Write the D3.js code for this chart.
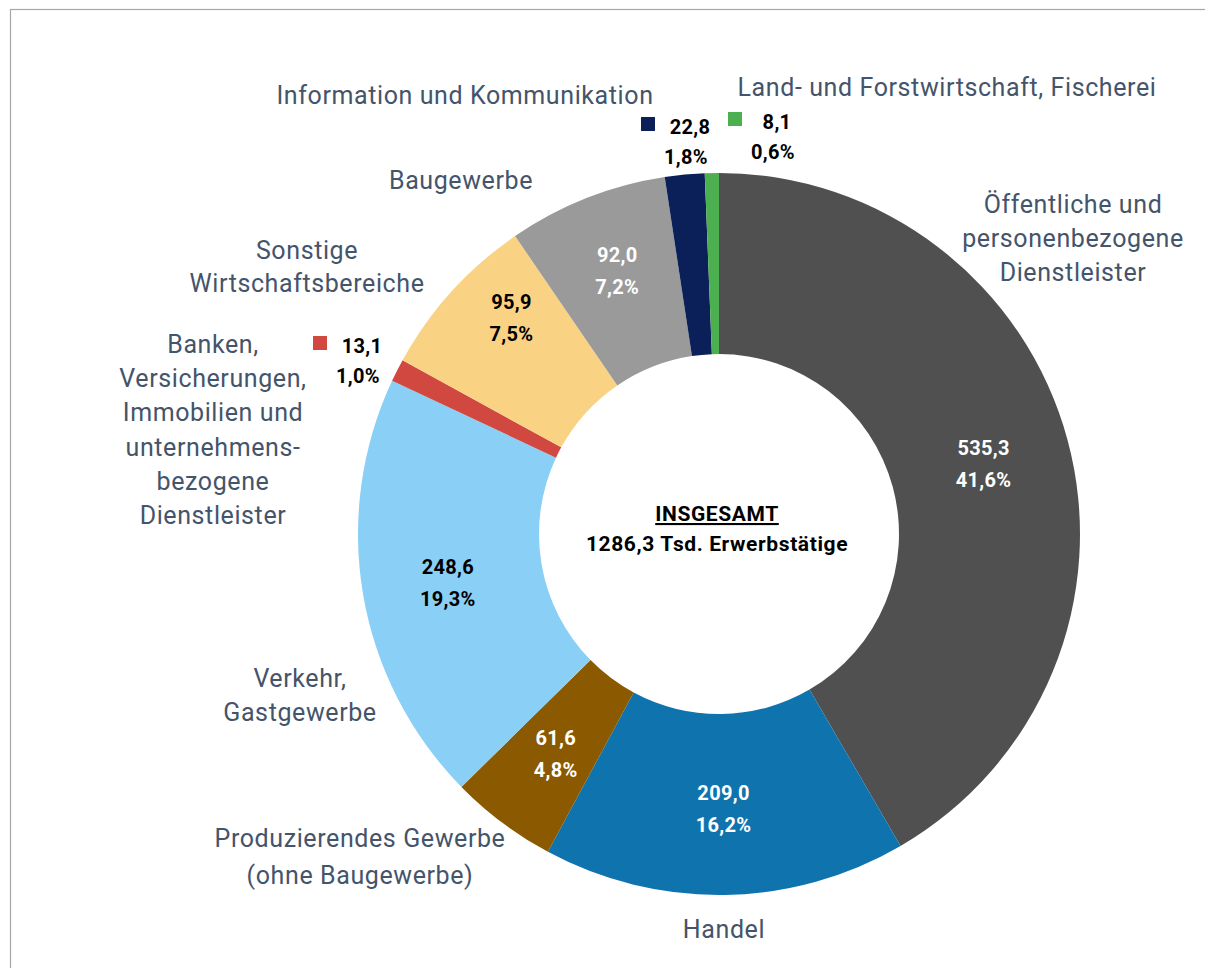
<!DOCTYPE html>
<html>
<head>
<meta charset="utf-8">
<script src="https://cdn.jsdelivr.net/npm/d3@7"></script>
<style>
  body { margin: 0; background: #fff; }
  svg { display: block; }
</style>
</head>
<body>
<div id="chart"></div>
<script>
// data
const sectors = ["Öffentliche und personenbezogene Dienstleister", "Handel",
  "Produzierendes Gewerbe (ohne Baugewerbe)", "Verkehr, Gastgewerbe",
  "Banken, Versicherungen, Immobilien und unternehmensbezogene Dienstleister",
  "Sonstige Wirtschaftsbereiche", "Baugewerbe", "Information und Kommunikation",
  "Land- und Forstwirtschaft, Fischerei"];
const values = [535.3, 209.0, 61.6, 248.6, 13.1, 95.9, 92.0, 22.8, 8.1];
const shares = ["41,6%", "16,2%", "4,8%", "19,3%", "1,0%", "7,5%", "7,2%", "1,8%", "0,6%"];
const totalLabel = "1286,3 Tsd. Erwerbstätige";

const colors = ["#505050", "#0f73ae", "#8b5a00", "#8acff5", "#d0483f", "#fad283", "#9a9a9a", "#0b2059", "#4caf50"];
const valueTextColor = ["#fff", "#fff", "#fff", "#000", "#000", "#000", "#fff", "#000", "#000"];

// category label lines and where they sit (offset from the donut centre)
const nameLines = [
  ["Öffentliche und", "personenbezogene", "Dienstleister"],
  ["Handel"],
  ["Produzierendes Gewerbe", "(ohne Baugewerbe)"],
  ["Verkehr,", "Gastgewerbe"],
  ["Banken,", "Versicherungen,", "Immobilien und", "unternehmens-", "bezogene", "Dienstleister"],
  ["Sonstige", "Wirtschaftsbereiche"],
  ["Baugewerbe"],
  ["Information und Kommunikation"],
  ["Land- und Forstwirtschaft, Fischerei"]
];
const namePos = [[354, -321], [5, 404], [-359, 313], [-419, 153], [-506, -181], [-412, -275], [-258, -345], [-254, -430], [228, -438]];
const nameLineH = [34, 34, 37, 34, 34.2, 33, 34, 34, 34];
// nudges for value labels inside slices
const valueNudge = [[2, 0], [0, 2], [0, 2], [-3, 2], [0, 0], [-6, -34], [-2, -11], [0, 0], [0, 0]];
// small slices get an outside value label with a colour key
const outsideKey = {4: [-399, -191], 7: [-71, -410], 8: [16, -415]};

const width = 1205, height = 968;
const cx = 719, cy = 534, outerR = 361, innerR = 180;
const textBlue = "#44546a";
const font = "Roboto, 'Noto Sans', sans-serif";

const svg = d3.select("#chart").append("svg")
  .attr("width", width).attr("height", height);

svg.append("rect")
  .attr("x", 10.5).attr("y", 9.5)
  .attr("width", width + 10).attr("height", height + 10)
  .attr("fill", "none").attr("stroke", "#a6a6a6").attr("stroke-width", 1.2);

const pie = d3.pie().sort(null).value(d => d)(values);
const arc = d3.arc().innerRadius(innerR).outerRadius(outerR);
const labelArc = d3.arc().innerRadius(272).outerRadius(272);

const g = svg.append("g").attr("transform", `translate(${cx},${cy})`);

g.selectAll("path.slice")
  .data(pie)
  .join("path")
  .attr("class", "slice")
  .attr("d", arc)
  .attr("fill", (d, i) => colors[i]);

const fmt = v => d3.format(".1f")(v).replace(".", ",");

// value labels inside slices
pie.forEach((d, i) => {
  if (outsideKey[i]) return;
  const c = labelArc.centroid(d);
  const x = c[0] + valueNudge[i][0], y = c[1] + valueNudge[i][1];
  const t = g.append("text")
    .attr("text-anchor", "middle")
    .attr("font-family", font).attr("font-weight", "bold")
    .attr("font-size", 20).attr("letter-spacing", 0.3)
    .attr("fill", valueTextColor[i]);
  t.append("tspan").attr("x", x).attr("y", y - 8).text(fmt(values[i]));
  t.append("tspan").attr("x", x).attr("y", y + 24).text(shares[i]);
});

// outside value labels with key square
Object.keys(outsideKey).forEach(k => {
  const i = +k;
  const [x, y] = outsideKey[i];
  g.append("rect")
    .attr("x", x - 7).attr("y", y - 7).attr("width", 14).attr("height", 14)
    .attr("fill", colors[i]);
  const t = g.append("text")
    .attr("text-anchor", "middle")
    .attr("font-family", font).attr("font-weight", "bold")
    .attr("font-size", 20).attr("letter-spacing", 0.3).attr("fill", "#000");
  t.append("tspan").attr("x", x + 42).attr("y", y + 10).text(fmt(values[i]));
  t.append("tspan").attr("x", x + 38).attr("y", y + 40).text(shares[i]);
});

// category names
nameLines.forEach((lines, i) => {
  const [x, y] = namePos[i];
  const t = g.append("text")
    .attr("text-anchor", "middle")
    .attr("font-family", font)
    .attr("font-size", 25).attr("letter-spacing", 0.6)
    .attr("fill", textBlue);
  lines.forEach((s, j) => {
    t.append("tspan").attr("x", x).attr("y", y + j * nameLineH[i]).text(s);
  });
});

// centre
g.append("text")
  .attr("x", -2).attr("y", -13)
  .attr("text-anchor", "middle")
  .attr("font-family", font).attr("font-weight", "bold")
  .attr("font-size", 21).attr("letter-spacing", 0.6).attr("fill", "#000")
  .attr("text-decoration", "underline")
  .text("INSGESAMT");
g.append("text")
  .attr("x", -2).attr("y", 17)
  .attr("text-anchor", "middle")
  .attr("font-family", font).attr("font-weight", "bold")
  .attr("font-size", 21).attr("letter-spacing", 0.6).attr("fill", "#000")
  .text(totalLabel);
</script>
</body>
</html>
